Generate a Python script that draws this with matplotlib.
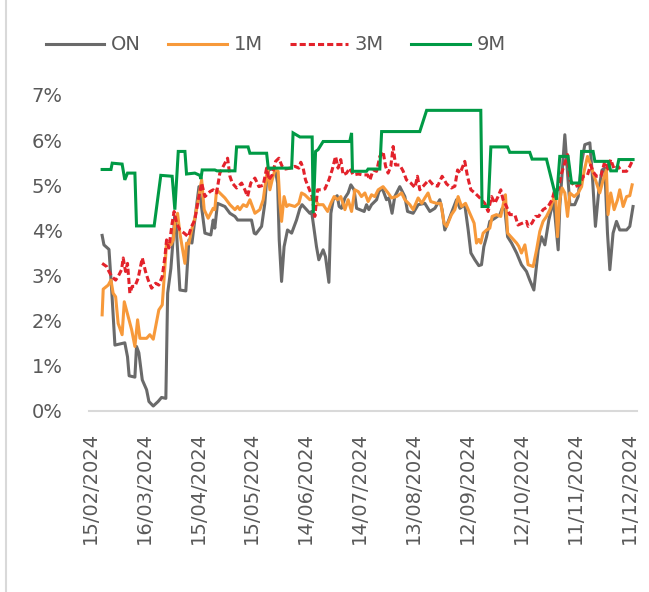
import matplotlib
matplotlib.use("Agg")
import matplotlib.pyplot as plt
import matplotlib.dates as mdates
from matplotlib.lines import Line2D
from matplotlib.ticker import FuncFormatter
import numpy as np
import datetime as dt

plt.rcParams['font.family'] = ['DejaVu Sans']

start_date = dt.date(2024, 2, 15)
tick_step_days = 30
n_ticks = 11

# ---- data: day offsets from 15/02/2024 and rates in % ----
on_days = [6.8, 7.8, 10.6, 12.1, 13.9, 19.4, 20.9, 21.8, 25.0, 25.9, 27.2, 29.1, 31.5, 32.8, 35.2, 37.9, 39.8, 42.2,
           43.2, 45.0, 47.2, 47.8, 50.0, 53.3, 55.0, 56.7, 60.6, 63.9, 67.2, 68.5, 69.4, 70.9, 75.0, 77.8, 80.6, 82.1,
           89.8, 91.3, 92.2, 95.4, 97.2, 98.2, 99.4, 102.8, 104.3, 105.2, 106.5, 107.9, 109.8, 112.1, 113.5, 114.8,
           116.7, 117.9, 120.4, 122.2, 123.2, 124.1, 125.9, 127.2, 129.6, 130.9, 132.8, 133.9, 135.2, 137.4, 138.5,
           139.8, 141.7, 143.5, 145.0, 146.8, 148.2, 152.4, 153.7, 155.0, 156.5, 159.3, 160.6, 162.4, 164.8, 166.1,
           167.9, 169.4, 172.2, 175.0, 176.5, 179.6, 182.4, 186.1, 188.9, 191.7, 194.4, 195.7, 197.2, 199.1, 203.7,
           205.6, 208.3, 210.2, 211.7, 213.9, 216.1, 217.6, 218.9, 220.4, 222.2, 225.0, 227.8, 229.1, 230.6, 232.1,
           234.3, 237.1, 239.8, 242.6, 244.4, 246.7, 249.1, 250.9, 252.8, 255.0, 257.4, 258.3, 260.2, 261.1, 262.4,
           263.9, 265.4, 266.7, 269.4, 271.3, 273.2, 275.0, 277.8, 279.1, 280.9, 282.8, 284.6, 286.1, 287.6, 288.9,
           290.7, 292.6, 294.4, 298.2, 300.0, 301.8]
on_vals = [3.89, 3.68, 3.58, 2.68, 1.46, 1.51, 1.20, 0.78, 0.75, 1.43, 1.29, 0.69, 0.47, 0.21, 0.11, 0.21, 0.30, 0.28,
           2.61, 3.16, 4.31, 4.19, 2.68, 2.66, 3.79, 3.72, 4.97, 3.94, 3.90, 4.23, 4.05, 4.60, 4.53, 4.38, 4.31, 4.23,
           4.23, 3.94, 3.92, 4.09, 4.60, 5.12, 5.34, 5.38, 5.05, 3.79, 2.87, 3.64, 4.01, 3.94, 4.09, 4.23,
           4.49, 4.57, 4.46, 4.38, 4.42, 4.16, 3.64, 3.35, 3.57, 3.42, 2.85, 4.38, 4.68, 4.77, 4.53,
           4.49, 4.72, 4.83, 5.01, 4.90, 4.49, 4.42, 4.57, 4.46, 4.57, 4.68, 4.86, 4.94, 4.68, 4.72,
           4.38, 4.75, 4.97, 4.75, 4.42, 4.38, 4.57, 4.60, 4.42, 4.49, 4.68, 4.46, 4.01, 4.20, 4.68,
           4.49, 4.57, 4.01, 3.50, 3.35, 3.22, 3.24, 3.64, 3.86, 4.20, 4.27, 4.35, 4.49, 4.46, 3.86,
           3.72, 3.50, 3.24, 3.09, 2.90, 2.68, 3.57, 3.86, 3.68, 4.23, 4.64, 4.38, 3.57, 4.53, 5.27,
           6.12, 5.27, 4.57, 4.57, 4.75, 5.49, 5.90, 5.94, 5.27, 4.09, 4.90, 5.34, 5.38, 3.94, 3.13,
           3.94, 4.20, 4.01, 4.01, 4.09, 4.53]

m1_days = [6.8, 7.4, 10.2, 11.7, 12.9, 14.3, 15.7, 17.9, 19.1, 21.3, 23.2, 25.0, 26.5, 27.8, 31.5, 33.3, 35.2, 38.3,
           40.2, 41.7, 42.6, 45.0, 46.3, 47.2, 48.7, 50.0, 52.8, 53.7, 55.0, 56.5, 58.3, 60.2, 62.1, 63.5, 65.7, 68.5,
           69.4, 70.4, 72.2, 75.0, 77.8, 80.6, 82.1, 83.3, 85.2, 87.1, 88.9, 91.7, 94.4, 96.3, 97.6, 98.7, 100.0,
           101.3, 102.8, 104.6, 105.6, 106.5, 107.9, 109.3, 110.6, 113.9, 116.1, 117.6, 119.4, 122.2, 125.0, 126.8,
           129.6, 132.1, 133.9, 135.7, 137.6, 139.4, 141.7, 143.5, 145.4, 147.2, 149.1, 150.9, 152.8, 154.6, 156.5,
           158.3, 160.2, 162.9, 165.7, 167.6, 170.4, 173.2, 175.0, 177.8, 179.6, 182.4, 184.4, 186.1, 187.9, 189.4,
           192.6, 195.0, 196.8, 198.2, 200.9, 202.8, 204.6, 206.5, 208.7, 211.1, 213.5, 214.8, 216.1, 217.2, 218.5,
           220.4, 222.2, 223.5, 225.9, 228.3, 230.2, 230.9, 232.1, 234.6, 237.1, 238.3, 239.8, 241.7, 243.5, 246.3,
           248.2, 250.0, 251.8, 253.7, 255.6, 257.4, 258.7, 259.8, 261.1, 262.4, 263.9, 265.4, 266.7, 269.1, 271.3,
           273.2, 274.6, 276.5, 278.3, 279.6, 281.5, 283.3, 285.2, 287.0, 287.9, 289.4, 291.3, 293.2, 294.4, 296.3,
           298.2, 300.0, 301.3]
m1_vals = [2.13, 2.70, 2.79, 2.90, 2.61, 2.53, 1.94, 1.69, 2.42, 2.09, 1.80, 1.43, 2.02, 1.61, 1.61, 1.69, 1.59, 2.24,
           2.35, 3.20, 3.72, 3.68, 3.79, 4.16, 4.38, 3.94, 3.27, 3.72, 3.70, 4.01, 4.27, 4.68, 5.12, 4.46, 4.27, 4.49,
           4.46, 4.90, 4.83, 4.72, 4.57, 4.46, 4.53, 4.46, 4.57, 4.53, 4.68, 4.38, 4.46, 4.68, 5.05, 5.38, 4.90,
           5.12, 5.34, 5.31, 4.60, 4.20, 4.75, 4.53, 4.57, 4.53, 4.60, 4.83, 4.79, 4.68, 4.72, 4.57,
           4.57, 4.42, 4.60, 4.75, 4.68, 4.75, 4.46, 4.68, 4.42, 4.90, 4.86, 4.75, 4.83, 4.64, 4.79,
           4.75, 4.90, 4.97, 4.83, 4.72, 4.75, 4.83, 4.68, 4.57, 4.46, 4.72, 4.60, 4.72, 4.83, 4.64,
           4.60, 4.60, 4.16, 4.09, 4.35, 4.46, 4.75, 4.53, 4.60, 4.38, 4.16, 3.72, 3.80, 3.72, 3.94,
           4.01, 4.05, 4.31, 4.35, 4.31, 4.68, 4.79, 3.94, 3.83, 3.72, 3.65, 3.50, 3.68, 3.24, 3.20,
           3.57, 3.98, 4.20, 4.31, 4.46, 4.68, 4.90, 3.86, 4.68, 4.94, 4.83, 4.31, 4.83, 4.75, 4.83,
           4.97, 5.31, 5.64, 5.45, 5.27, 5.05, 4.83, 5.12, 5.34, 4.35, 4.83, 4.46, 4.68, 4.90, 4.53,
           4.75, 4.77, 5.01]

m3_days = [6.8, 9.3, 10.6, 12.1, 14.3, 15.7, 17.6, 18.5, 19.8, 20.9, 22.2, 23.5, 25.0, 26.8, 29.1, 30.9, 32.4, 34.3,
           36.5, 38.3, 40.2, 41.7, 42.6, 43.9, 45.7, 46.8, 48.2, 50.0, 52.4, 54.6, 56.5, 58.3, 60.2, 62.1, 63.9, 66.7,
           68.5, 70.4, 72.2, 74.1, 76.5, 77.8, 79.1, 81.5, 84.3, 86.1, 87.6, 89.4, 91.7, 93.9, 96.3, 98.2, 99.4,
           101.3, 103.2, 105.0, 106.8, 108.7, 111.1, 113.9, 116.1, 117.2, 118.5, 119.8, 121.3, 123.5, 125.0, 126.5,
           128.7, 130.6, 132.8, 134.6, 136.5, 137.9, 139.4, 140.7, 142.6, 144.4, 146.3, 149.1, 151.8, 154.3, 155.6,
           157.4, 159.3, 161.1, 162.9, 164.3, 165.7, 167.2, 168.5, 169.8, 172.2, 174.1, 175.9, 178.3, 180.6, 182.0,
           183.3, 185.2, 188.3, 190.7, 193.2, 195.7, 198.2, 200.9, 202.8, 204.3, 205.7, 208.3, 209.8, 211.7, 213.9,
           216.7, 219.4, 221.3, 223.2, 225.0, 226.8, 228.3, 229.6, 231.5, 233.3, 236.1, 237.9, 240.2, 242.6, 243.5,
           245.6, 247.6, 249.4, 251.8, 254.6, 256.8, 258.3, 260.2, 262.1, 263.9, 265.4, 266.7, 269.4, 272.2, 274.1,
           276.5, 278.3, 279.6, 281.5, 283.9, 286.1, 287.9, 289.4, 291.3, 293.5, 295.4, 298.2, 300.0, 301.3]
m3_vals = [3.27, 3.20, 3.09, 2.98, 2.90, 2.98, 3.13, 3.39, 3.09, 3.27, 2.61, 2.76, 2.76, 2.94, 3.39, 3.09, 2.90, 2.72,
           2.83, 2.79, 2.98, 3.42, 3.79, 3.61, 4.16, 4.42, 4.16, 4.01, 3.94, 3.86, 4.09, 4.23, 4.68, 5.05, 4.75, 4.86,
           4.90, 4.83, 5.27, 5.42, 5.60, 5.20, 5.05, 4.94, 5.05, 4.90, 4.75, 5.05, 5.16, 4.97, 5.00, 5.38, 5.12,
           5.23, 5.53, 5.60, 5.42, 5.36, 5.38, 5.42, 5.38, 5.51, 5.38, 5.12, 4.97, 4.75, 4.31, 4.90,
           4.90, 4.92, 5.12, 5.34, 5.64, 5.38, 5.57, 5.23, 5.27, 5.38, 5.23, 5.25, 5.23, 5.23, 5.12,
           5.34, 5.31, 5.64, 5.75, 5.42, 5.27, 5.42, 5.86, 5.45, 5.45, 5.31, 5.12, 5.05, 4.95, 5.20,
           4.90, 4.98, 5.12, 5.01, 4.98, 5.20, 5.03, 4.94, 4.98, 5.34, 5.27, 5.53, 5.20, 4.90, 4.83,
           4.72, 4.60, 4.42, 4.75, 4.60, 4.75, 4.90, 4.68, 4.53, 4.35, 4.35, 4.12, 4.16, 4.20, 4.09,
           4.16, 4.31, 4.31, 4.46, 4.53, 4.68, 4.90, 4.90, 5.27, 5.49, 5.68, 5.12, 4.97, 5.01, 5.20,
           5.23, 5.45, 5.30, 5.20, 5.20, 5.53, 5.36, 5.57, 5.36, 5.42, 5.31, 5.31, 5.42, 5.53]

m9_days = [6.8, 11.7, 12.4, 17.9, 19.4, 20.9, 25.0, 25.9, 35.7, 39.4, 45.7, 47.2, 49.1, 52.8, 53.7, 58.3, 61.1, 61.7,
           62.4, 69.4, 70.6, 80.6, 81.5, 87.9, 88.9, 98.2, 99.1, 112.1, 112.9, 116.7, 123.5, 124.1, 125.4, 126.8,
           129.6, 144.4, 145.4, 145.9, 153.7, 154.6, 161.1, 162.1, 183.3, 187.1, 217.2, 217.9, 221.3, 222.8, 232.1,
           233.3, 244.4, 245.7, 253.7, 259.3, 261.1, 265.7, 267.6, 272.2, 273.2, 279.6, 280.6, 288.0, 289.4, 292.6,
           293.9, 301.8]
m9_vals = [5.35, 5.35, 5.49, 5.47, 5.12, 5.27, 5.27, 4.10, 4.10, 5.22, 5.20, 4.46, 5.75, 5.75, 5.25, 5.27, 5.22, 5.14,
           5.34, 5.34, 5.32, 5.32, 5.85, 5.85, 5.71, 5.71, 5.38, 5.38, 6.16, 6.07, 6.07, 4.38, 5.75, 5.79,
           5.97, 5.97, 6.16, 5.31, 5.31, 5.36, 5.36, 6.19, 6.19, 6.66, 6.66, 4.53, 4.53, 5.85, 5.85,
           5.73, 5.73, 5.58, 5.58, 4.68, 5.64, 5.64, 5.05, 5.05, 5.75, 5.75, 5.53, 5.53, 5.32, 5.32,
           5.57, 5.57]

series_names = ["ON", "1M", "3M", "9M"]
y_ticks = [0, 1, 2, 3, 4, 5, 6, 7]

# ---- style ----
TEXT = "#595959"
colors = {"ON": "#6a6a6a", "1M": "#f7993a", "3M": "#e3222b", "9M": "#009a45"}
LW = 2.2
FS = 14

fig = plt.figure(figsize=(6.49, 5.92), dpi=100)
ax = fig.add_axes([89 / 649, 1 - 411 / 592, (637 - 89) / 649, (411 - 95) / 592])

base = mdates.date2num(np.datetime64(start_date))

def xs(days):
    return base + np.asarray(days, dtype=float)

l_on, = ax.plot(xs(on_days), on_vals, color=colors["ON"], lw=LW, solid_joinstyle="round")
l_1m, = ax.plot(xs(m1_days), m1_vals, color=colors["1M"], lw=LW, solid_joinstyle="round")
l_3m, = ax.plot(xs(m3_days), m3_vals, color=colors["3M"], lw=LW, dashes=(2.0, 1.0))
l_9m, = ax.plot(xs(m9_days), m9_vals, color=colors["9M"], lw=LW, solid_joinstyle="miter")

ticks = [base + tick_step_days * k for k in range(n_ticks)]
ax.set_xticks(ticks)
ax.xaxis.set_major_formatter(mdates.DateFormatter("%d/%m/%Y"))
ax.set_xlim(base - 0.5, base + 304)
ax.set_ylim(0, 7)
ax.set_yticks(y_ticks)
ax.yaxis.set_major_formatter(FuncFormatter(lambda v, p: f"{int(v)}%"))

for s in ["top", "right", "left"]:
    ax.spines[s].set_visible(False)
ax.spines["bottom"].set_color("#d9d9d9")
ax.spines["bottom"].set_linewidth(1.5)
ax.tick_params(axis="both", length=0, labelsize=FS, labelcolor=TEXT)
ax.tick_params(axis="x", pad=15, rotation=90)
ax.tick_params(axis="y", pad=19)

fig.legend([l_on, l_1m, l_3m, l_9m], series_names, loc="center", bbox_to_anchor=(0.425, 0.924), ncol=4,
           frameon=False, fontsize=FS, labelcolor=TEXT, handlelength=3.0, handletextpad=0.35,
           columnspacing=1.4)

fig.add_artist(Line2D([6 / 649, 6 / 649], [0, 1], transform=fig.transFigure, color="#d9d9d9", lw=1.5))

fig.savefig("out.png", dpi=100)
